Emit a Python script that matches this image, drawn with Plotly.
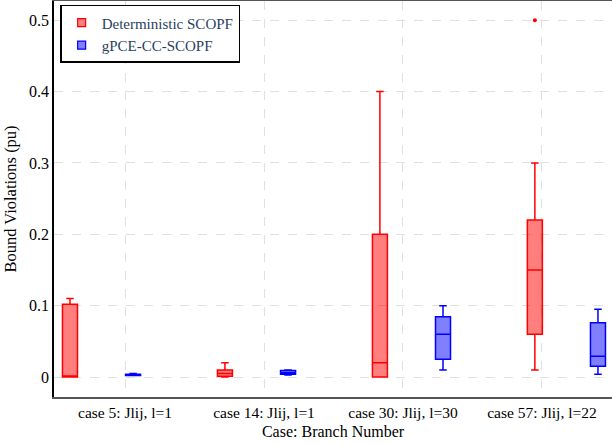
import plotly.graph_objects as go

categories = ["case 5: Jlij, l=1", "case 14: Jlij, l=1", "case 30: Jlij, l=30", "case 57: Jlij, l=22"]

# Deterministic SCOPF box statistics
det_lower = [0.0, 0.0, 0.0, 0.01]
det_q1 = [0.0, 0.001, 0.0, 0.06]
det_median = [0.0, 0.005, 0.02, 0.15]
det_q3 = [0.102, 0.010, 0.20, 0.22]
det_upper = [0.11, 0.02, 0.40, 0.30]
det_outlier_case = [3]
det_outlier_val = [0.5]

# gPCE-CC-SCOPF box statistics
gp_lower = [0.002, 0.003, 0.01, 0.004]
gp_q1 = [0.002, 0.004, 0.025, 0.015]
gp_median = [0.003, 0.006, 0.06, 0.029]
gp_q3 = [0.004, 0.009, 0.0845, 0.076]
gp_upper = [0.005, 0.010, 0.10, 0.095]

y_ticks = [0, 0.1, 0.2, 0.3, 0.4, 0.5]
y_ticklabels = ["0", "0.1", "0.2", "0.3", "0.4", "0.5"]

# layout geometry (axis units: one tick spacing = 1)
group_start = -0.169
group_step = 1.115
offset = 0.227
box_w = 0.108

n = len(categories)
det_x = [group_start + i * group_step - offset for i in range(n)]
gp_x = [group_start + i * group_step + offset for i in range(n)]

SERIF = "Liberation Serif, Times New Roman, Times, serif"

fig = go.Figure()
fig.add_trace(go.Box(
    name="Deterministic SCOPF", x=det_x, q1=det_q1, median=det_median, q3=det_q3,
    lowerfence=det_lower, upperfence=det_upper, width=box_w, whiskerwidth=0.5,
    fillcolor="rgba(255,0,0,0.5)", line=dict(color="red", width=1.5), boxpoints=False,
    showlegend=False,
))
fig.add_trace(go.Box(
    name="gPCE-CC-SCOPF", x=gp_x, q1=gp_q1, median=gp_median, q3=gp_q3,
    lowerfence=gp_lower, upperfence=gp_upper, width=box_w, whiskerwidth=0.5,
    fillcolor="rgba(0,0,255,0.5)", line=dict(color="blue", width=1.5), boxpoints=False,
    showlegend=False,
))
fig.add_trace(go.Scatter(
    x=[det_x[i] for i in det_outlier_case], y=det_outlier_val, mode="markers",
    marker=dict(color="red", size=4), showlegend=False, hoverinfo="skip",
))
# legend entries (square swatches)
fig.add_trace(go.Scatter(
    name="Deterministic SCOPF", x=[None], y=[None], mode="markers",
    marker=dict(symbol="square", size=8, color="rgba(255,0,0,0.5)", line=dict(color="red", width=1.2)),
))
fig.add_trace(go.Scatter(
    name="gPCE-CC-SCOPF", x=[None], y=[None], mode="markers",
    marker=dict(symbol="square", size=8, color="rgba(0,0,255,0.5)", line=dict(color="blue", width=1.2)),
))

fig.update_layout(
    width=612, height=445, autosize=False,
    margin=dict(l=54, r=0, t=1, b=48),
    paper_bgcolor="white", plot_bgcolor="white",
    font=dict(family=SERIF, size=16, color="black"),
    showlegend=True,
    legend=dict(
        x=0.011, y=0.99, xanchor="left", yanchor="top",
        bgcolor="white", bordercolor="black", borderwidth=1.5,
        font=dict(family=SERIF, size=15, color="#2a3f5f"),
        itemwidth=30, tracegroupgap=0,
    ),
    xaxis=dict(
        range=[-0.511, 3.504], tickmode="array",
        tickvals=list(range(n)), ticktext=categories,
        showgrid=True, gridcolor="#e0e0e0", griddash="dash", gridwidth=1,
        showline=True, linecolor="#555", linewidth=2, mirror=True,
        ticks="", zeroline=False,
        title=dict(text="Case: Branch Number", standoff=6, font=dict(family=SERIF, size=16)),
        tickfont=dict(family=SERIF, size=15.5),
    ),
    yaxis=dict(
        range=[-0.028, 0.527], tickmode="array",
        tickvals=y_ticks, ticktext=y_ticklabels,
        showgrid=True, gridcolor="#e0e0e0", griddash="dash", gridwidth=1,
        showline=True, linecolor="black", linewidth=1.5,
        ticks="", zeroline=False,
        title=dict(text="Bound Violations (pu)", standoff=8, font=dict(family=SERIF, size=16.5)),
        tickfont=dict(family=SERIF, size=16),
    ),
)

fig.write_html(
    "out.html",
    config={"displayModeBar": False},
    post_script="document.body.style.margin='0';document.body.style.padding='0';",
)
